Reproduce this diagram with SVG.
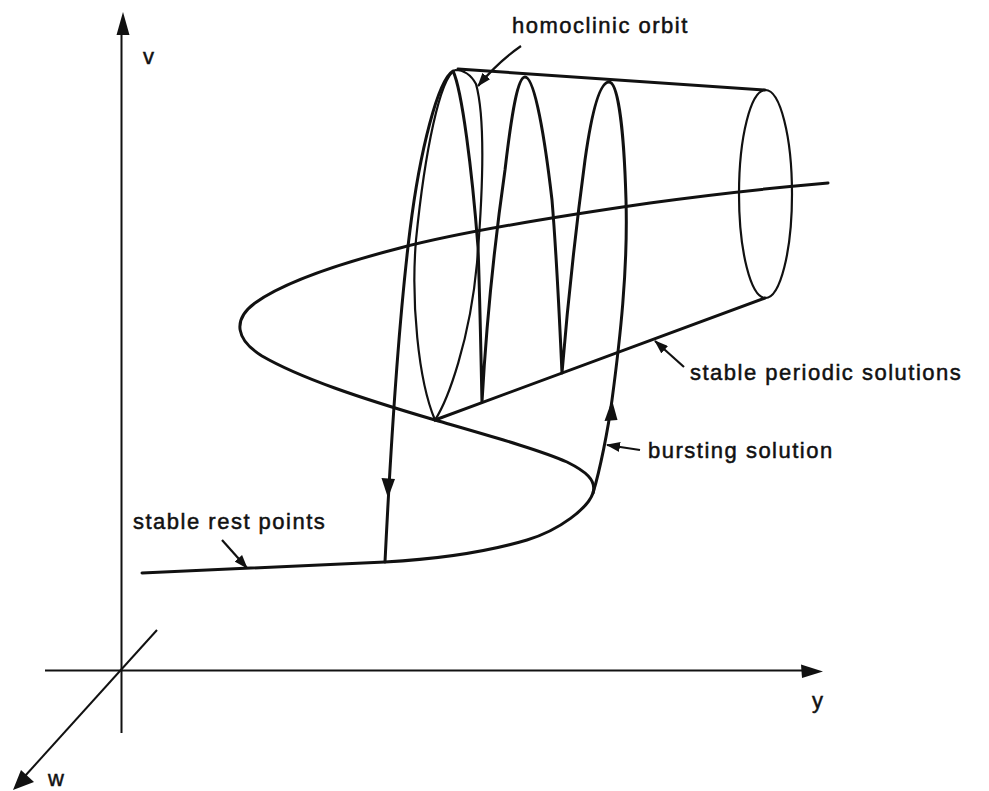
<svg xmlns="http://www.w3.org/2000/svg" width="989" height="791" viewBox="0 0 989 791">
<style>
.ax{fill:none;stroke:#111;stroke-width:2}
.cv{fill:none;stroke:#111;stroke-width:3;stroke-linejoin:round;stroke-linecap:round}
.th{fill:none;stroke:#111;stroke-width:2.2}
.pt{fill:none;stroke:#111;stroke-width:2.2}
.ah{fill:#111;stroke:none}
text{font-family:"Liberation Sans",Arial,sans-serif;font-size:22px;letter-spacing:1.5px;fill:#111;stroke:#111;stroke-width:0.5}
</style>
<defs>
<marker id="ptr" markerUnits="userSpaceOnUse" markerWidth="14" markerHeight="10" refX="13" refY="5" orient="auto">
<path d="M0,0 L14,5 L0,10 z" fill="#111"/>
</marker>
</defs>
<rect width="989" height="791" fill="#fff"/>
<g id="axes">
<line class="ax" x1="121.5" y1="30" x2="121.5" y2="733"/>
<polygon class="ah" points="123,12 116.5,35 129.5,35"/>
<line class="ax" x1="45" y1="670.5" x2="806" y2="670.5"/>
<polygon class="ah" points="823,671.5 801,664.5 802,678"/>
<line class="ax" x1="157" y1="630" x2="25" y2="776"/>
<polygon class="ah" points="13,790 21,770 34,782"/>
</g>
<g id="surface">
<path id="equilibria" class="cv" d="M828,183 C760,189 700,196 650,203 C560,216 460,232 400,248 C330,266 280,285 255,303 C232,320 236,340 262,356 C300,378 360,398 435,420 C490,436 540,450 567,462 C585,471 597,480 593,493 C588,508 560,530 527,540 C490,551 440,559 385,562 Q260,568 142,573"/>
<path id="cone-top" class="cv" d="M458,69 L765,90"/>
<path id="cone-bottom" class="cv" d="M435,420 L765,298"/>
<ellipse id="cone-end" class="th" cx="765.5" cy="194" rx="26.5" ry="104"/>
<path id="homoclinic" class="th" d="M455,70 C440,78 425,150 416,240 C411,300 418,380 435,420 C448,400 470,340 477,263 C483,190 486,120 476,84 C470,73 462,70 455,70"/>
</g>
<g id="bursting">
<path class="cv" d="M593,493 C600,470 608,430 612,400 C620,340 628,270 626,200 C624,130 618,82 609,82 C600,82 592,110 585,160 C577,220 568,300 562,373 C560,330 557,260 552,200 C545,140 535,77 525,77 C518,77 512,110 505,170 C495,240 486,330 482,402 C481,360 480,300 478,247 C472,170 462,90 453,71 C438,80 420,150 410,230 C400,310 392,420 385,562"/>
<polygon class="ah" points="612,400 604.5,421 617.5,420"/>
<polygon class="ah" points="388,498 381.5,478 395,479"/>
</g>
<g id="labels">
<text x="512" y="33">homoclinic orbit</text>
<path class="pt" d="M521,46 Q498,62 478,86" marker-end="url(#ptr)"/>
<text x="690" y="380">stable periodic solutions</text>
<path class="pt" d="M684,367 L655,341" marker-end="url(#ptr)"/>
<text x="648" y="458">bursting solution</text>
<path class="pt" d="M640,450 L607,445" marker-end="url(#ptr)"/>
<text x="133" y="529">stable rest points</text>
<path class="pt" d="M222,540 L247,568" marker-end="url(#ptr)"/>
<text x="143" y="64">v</text>
<text x="812" y="708">y</text>
<text x="48" y="786">w</text>
</g>
</svg>
